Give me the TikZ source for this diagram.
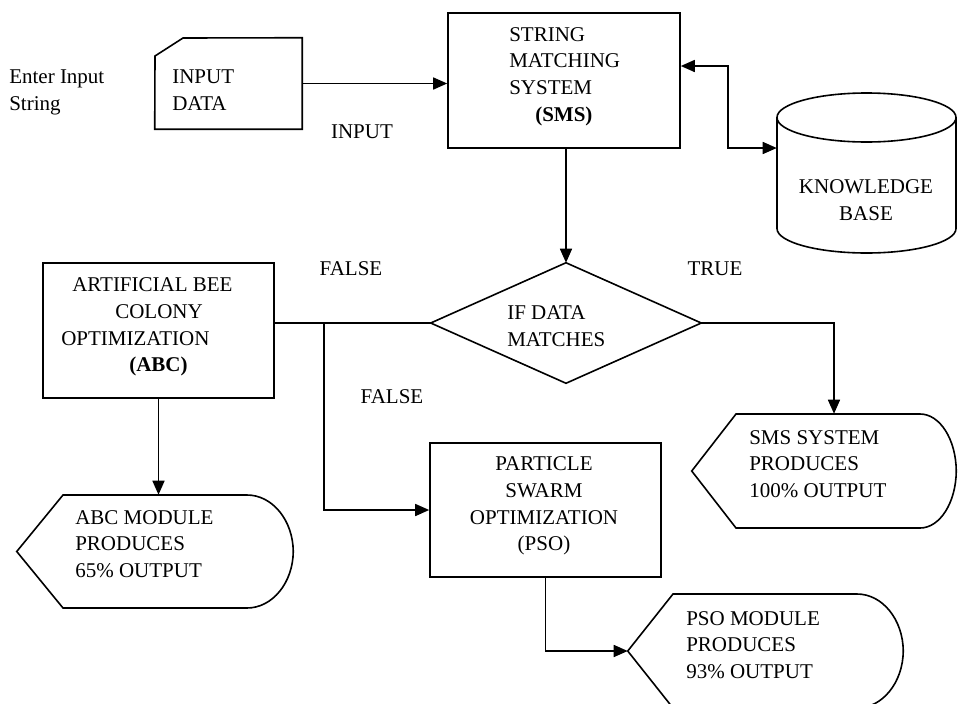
\documentclass[tikz,border=0pt]{standalone}
\usepackage{fontspec}
\setmainfont{Liberation Serif}
\usetikzlibrary{arrows.meta,fit,calc}
\begin{document}
\begin{tikzpicture}[x=0.75pt,y=-0.75pt,
  every node/.style={font=\fontsize{15.75}{20}\selectfont, inner sep=0pt},
  line/.style={line width=1.2pt, black},
  arr/.style={line, -{Triangle[length=10.5pt,width=9pt]}},
  dblarr/.style={line, {Triangle[length=10.5pt,width=9pt]}-{Triangle[length=10.5pt,width=9pt]}},
  rectbox/.style={draw, line width=1.2pt, inner sep=0pt},
  shapeframe/.style={inner sep=0pt},
  txt/.style={anchor=west, align=left},
]
\useasboundingbox (0,0) rectangle (958,704);

% ---- shapes ----
\node[shapeframe, fit={(155,38) (302,129)}] (inp) {};
\draw[line] (inp.south west) -- (155,56) -- (183,38) -- (inp.north east) -- (inp.south east) -- cycle;

\node[rectbox, fit={(448,13) (680,148)}] (sms) {};

\node[shapeframe, fit={(777,93) (956,253)}] (kb) {};
\draw[line] (866.5,117.5) ellipse [x radius=89.5, y radius=24.5];
\draw[line] (777,117.5) -- (777,228.5)
  .. controls (777,242) and (817,253) .. (866.5,253)
  .. controls (916,253) and (956,242) .. (956,228.5) -- (956,117.5);

\node[shapeframe, fit={(431,263) (701,383)}] (dia) {};
\draw[line] (dia.west) -- (dia.north) -- (dia.east) -- (dia.south) -- cycle;

\node[rectbox, fit={(43,263) (274,398)}] (abc) {};
\node[rectbox, fit={(430,443) (661,577)}] (pso) {};

\node[shapeframe, fit={(17,495) (293,608)}] (abcout) {};
\draw[line] (abcout.west) -- (63,495) -- (247,495)
  .. controls (272.4,495) and (293,520.3) .. (abcout.east)
  .. controls (293,582.7) and (272.4,608) .. (247,608) -- (63,608) -- cycle;

\node[shapeframe, fit={(692,414) (956,528)}] (smsout) {};
\draw[line] (smsout.west) -- (736,414) -- (920,414)
  .. controls (940,414) and (956,439.5) .. (smsout.east)
  .. controls (956,502.5) and (940,528) .. (920,528) -- (736,528) -- cycle;

\node[shapeframe, fit={(628,594) (903,708)}] (psoout) {};
\draw[line] (psoout.west) -- (673,594) -- (857,594)
  .. controls (882.4,594) and (903,619.5) .. (psoout.east)
  .. controls (903,682.5) and (882.4,708) .. (857,708) -- (673,708) -- cycle;

% ---- connectors ----
\draw[arr] (inp.east) -- (inp.east -| sms.west);
\draw[dblarr] (sms.east |- 0,66) -- (728,66) -- (728,148) -- (kb.west |- 0,148);
\draw[arr] (dia.north |- sms.south) -- (dia.north);
\draw[line] (dia.west) -- (dia.west -| abc.east);
\coordinate (br) at (324,323);
\draw[arr] (br) |- (pso.west);
\draw[arr] (abc.south) -- (abc.south |- abcout.north);
\draw[arr] (pso.south) |- (psoout.west);
\draw[arr] (dia.east) -| (smsout.north -| 834,0);

% ---- texts ----
\node[txt] (t1) at (9,92.5) {Enter Input\\String};
\node[txt] (t2) at (172,90) {INPUT\\DATA};
\node (t3) at (362,132) {INPUT};
\node[txt] (t4) at (509,76.5) {STRING\\MATCHING\\SYSTEM\\\hspace*{19.5pt}\textbf{(SMS)}};
\node[align=center] (t5) at (866,200) {KNOWLEDGE\\BASE};
\node (t6) at (715,269) {TRUE};
\node (t7) at (351,269) {FALSE};
\node (t8) at (392,397) {FALSE};
\node[txt] (t9) at (507,326) {IF DATA\\MATCHES};
\node[txt] (t10) at (61,327) {\hspace*{8.25pt}ARTIFICIAL BEE\\\hspace*{40.5pt}COLONY\\OPTIMIZATION\\\hspace*{51pt}\textbf{(ABC)}};
\node[align=center] (t11) at (544,506) {PARTICLE\\SWARM\\OPTIMIZATION\\(PSO)};
\node[txt] (t12) at (749,464) {SMS SYSTEM\\PRODUCES\\100\% OUTPUT};
\node[txt] (t13) at (75,544) {ABC MODULE\\PRODUCES\\65\% OUTPUT};
\node[txt] (t14) at (686,645) {PSO MODULE\\PRODUCES\\93\% OUTPUT};
\end{tikzpicture}
\end{document}
